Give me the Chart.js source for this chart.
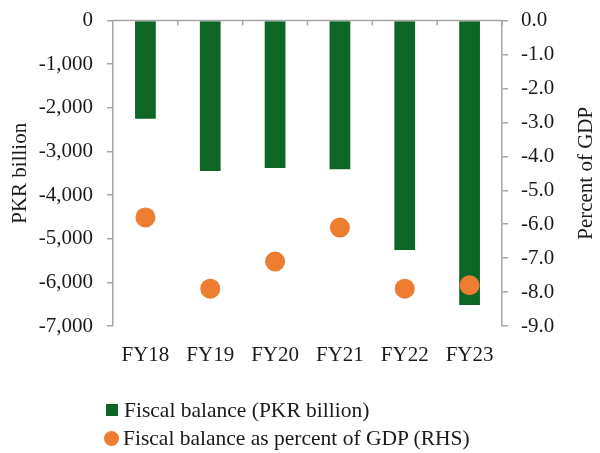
<!DOCTYPE html>
<html>
<head>
<meta charset="utf-8">
<script src="https://cdn.jsdelivr.net/npm/chart.js@4"></script>
<style>
  html, body { margin: 0; padding: 0; background: #fff; }
  #wrap { position: relative; width: 600px; height: 453px; overflow: hidden; }
  #fiscalChart { position: absolute; left: 0; top: -6px; }
  #legend { position: absolute; left: 104px; top: 396px; font-family: "Liberation Serif", serif; font-size: 21.5px; color: #1a1a1a; }
  .item { display: flex; align-items: center; height: 28px; white-space: nowrap; }
  .sq { width: 12px; height: 12px; background: #0d6625; margin: 0 6px 0 2px; }
  .dot { width: 15px; height: 15px; border-radius: 50%; background: #ed7d31; margin: 0 4px 0 0; }
</style>
</head>
<body>
<div id="wrap">
  <canvas id="fiscalChart" width="600" height="459"></canvas>
  <div id="legend">
    <div class="item"><span class="sq"></span>Fiscal balance (PKR billion)</div>
    <div class="item"><span class="dot"></span>Fiscal balance as percent of GDP (RHS)</div>
  </div>
</div>
<script>
const years = ['FY18', 'FY19', 'FY20', 'FY21', 'FY22', 'FY23'];
const balancePKR = [-2250, -3450, -3380, -3410, -5260, -6520]; // PKR billion
const balancePct = [-5.8, -7.9, -7.1, -6.1, -7.9, -7.8];       // % of GDP
const leftTicks = [0, -1000, -2000, -3000, -4000, -5000, -6000, -7000];
const rightTicks = [0, -1, -2, -3, -4, -5, -6, -7, -8, -9];

const axisGray = '#a6a6a6';
const textCol = '#1a1a1a';
const serif = '"Liberation Serif", serif';
const fontSize = 21;

// zero line at the top with small tick marks between categories + right title
const zeroLine = {
  id: 'zeroLine',
  afterDatasetsDraw(chart) {
    const { ctx, chartArea, scales } = chart;
    const y0 = scales.y.getPixelForValue(0);
    ctx.save();
    ctx.strokeStyle = axisGray;
    ctx.lineWidth = 1.5;
    ctx.beginPath();
    ctx.moveTo(chartArea.left, y0);
    ctx.lineTo(chartArea.right, y0);
    const step = (chartArea.right - chartArea.left) / years.length;
    for (let i = 1; i <= years.length; i++) {
      const x = chartArea.left + step * i;
      ctx.moveTo(x, y0);
      ctx.lineTo(x, y0 + 5);
    }
    ctx.stroke();
    ctx.restore();
  },
  afterDraw(chart) {
    const { ctx, chartArea } = chart;
    ctx.save();
    ctx.fillStyle = textCol;
    ctx.font = fontSize + 'px ' + serif;
    ctx.textAlign = 'center';
    ctx.textBaseline = 'middle';
    ctx.translate(586, (chartArea.top + chartArea.bottom) / 2);
    ctx.rotate(-Math.PI / 2);
    ctx.fillText('Percent of GDP', 0, 0);
    ctx.restore();
  }
};

const ctx = document.getElementById('fiscalChart').getContext('2d');
const fiscalChart = new Chart(ctx, {
  data: {
    labels: years,
    datasets: [
      {
        type: 'line',
        label: 'Fiscal balance as percent of GDP (RHS)',
        data: balancePct,
        yAxisID: 'y1',
        showLine: false,
        pointRadius: 10,
        pointBackgroundColor: '#ed7d31',
        pointBorderWidth: 0,
        order: 0
      },
      {
        type: 'bar',
        label: 'Fiscal balance (PKR billion)',
        data: balancePKR,
        yAxisID: 'y',
        backgroundColor: '#0d6625',
        categoryPercentage: 1,
        barPercentage: 0.32,
        order: 1
      }
    ]
  },
  options: {
    responsive: false,
    animation: false,
    layout: { padding: { top: 0, left: 0, right: 0, bottom: 0 } },
    plugins: {
      legend: { display: false },
      tooltip: { enabled: false }
    },
    scales: {
      x: {
        grid: { display: false },
        border: { display: false },
        ticks: { color: textCol, font: { family: serif, size: fontSize }, padding: 9 },
        afterFit: (s) => { s.height = 127; }
      },
      y: {
        position: 'left',
        min: -7000,
        max: 0,
        afterBuildTicks: (s) => { s.ticks = leftTicks.map(v => ({ value: v })); },
        grid: { drawOnChartArea: false, color: axisGray, lineWidth: 1.5, tickLength: 6 },
        border: { color: axisGray, width: 1.5 },
        ticks: {
          color: textCol,
          font: { family: serif, size: fontSize },
          padding: 14,
          callback: (v) => v.toLocaleString('en-US')
        },
        title: { display: true, text: 'PKR billion', color: textCol, font: { family: serif, size: fontSize }, padding: { top: 8, bottom: 0 } },
        afterFit: (s) => { s.width = 113; }
      },
      y1: {
        position: 'right',
        min: -9,
        max: 0,
        afterBuildTicks: (s) => { s.ticks = rightTicks.map(v => ({ value: v })); },
        grid: { drawOnChartArea: false, color: axisGray, lineWidth: 1.5, tickLength: 6 },
        border: { color: axisGray, width: 1.5 },
        ticks: {
          color: textCol,
          font: { family: serif, size: fontSize },
          padding: 13,
          callback: (v) => v.toFixed(1)
        },
        afterFit: (s) => { s.width = 98; }
      }
    }
  },
  plugins: [zeroLine]
});
</script>
</body>
</html>
